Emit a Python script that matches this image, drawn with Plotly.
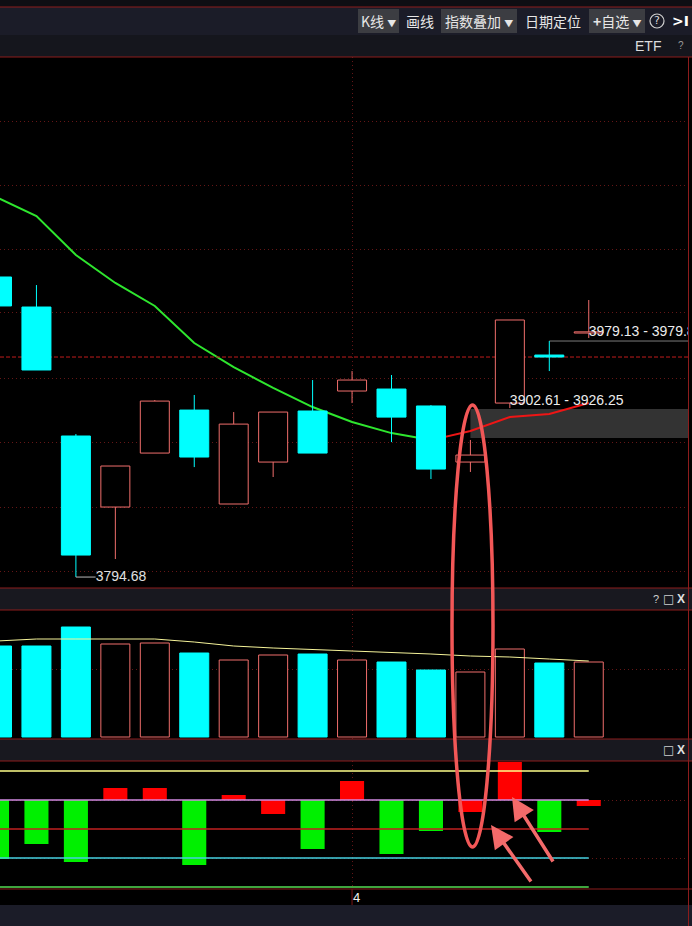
import plotly.graph_objects as go

W, H = 692, 926
def px(x): return x / W
def py(y): return 1 - y / H

# ---------------- data ----------------
idx = list(range(16))
opens  = [4021.5, 3998.8, 3901.3, 3847.6, 3888.4, 3920.9, 3849.9, 3881.6, 3920.2, 3935.3, 3936.8, 3924.0, 3881.6, 3926.2, 3962.5, 3979.13]
closes = [3999.6, 3951.2, 3811.3, 3878.6, 3927.7, 3885.4, 3910.3, 3919.4, 3888.4, 3943.6, 3915.6, 3876.3, 3886.9, 3989.0, 3961.0, 3979.85]
highs  = [4021.5, 4015.4, 3902.8, 3878.6, 3928.5, 3932.3, 3919.4, 3919.4, 3943.6, 3950.4, 3947.4, 3924.7, 3898.3, 3989.0, 3973.1, 4004.1]
lows   = [3999.6, 3951.2, 3794.68, 3808.3, 3888.4, 3877.8, 3849.9, 3870.3, 3888.4, 3926.2, 3896.7, 3868.8, 3874.1, 3922.4, 3950.4, 3975.4]
ma     = [4081.6, 4067.6, 4038.1, 4017.0, 3999.6, 3971.6, 3953.4, 3937.6, 3923.2, 3911.9, 3903.5, 3898.2, 3905.1, 3915.6, 3917.9, 3926.25]
ma_turn = 11                      # MA turns from falling (green) to rising (red)
prev_close = 3961.0
band = [3899.8, 3921.7]           # grey zone
band_start = 12
price_grid = [3798.5, 3847.6, 3896.7, 3945.1, 3994.3, 4042.6, 4091.0, 4139.4]

volume = [455, 455, 550, 465, 470, 420, 385, 410, 415, 385, 375, 335, 325, 440, 370, 375]
vol_ma = [480, 490, 490, 490, 490, 475, 455, 445, 438, 430, 425, 415, 405, 400, 390, 380]
vol_grid = [340]

macd = [-5.9, -4.4, -6.2, 1.2, 1.2, -6.5, 0.5, -1.4, -4.9, 1.9, -5.4, -3.1, -1.2, 3.8, -3.2, -0.6]
macd_levels = [2.9, 0.0, -2.9, -5.8, -8.7]
macd_level_colors = ["#ffff8a", "#d08ae0", "#c02020", "#44d0e0", "#55dd55"]
macd_grid = [0.0, -5.8]

x_tick_pos = [9]
x_tick_text = ["4"]

low_label = (2, "3794.68")
range_labels = [(13, 3927.7, "3902.61 - 3926.25"), (15, 3979.9, "3979.13 - 3979.85")]

# ---------------- styles ----------------
UP = "#f06e6c"
DN = "#00ffff"
GRID = "rgba(125,28,28,0.8)"
GRID_DASH = "1px,3px"
BORDER = "#8c1c1c"
X0, DX = -3.0, 39.45
xr = [(0 - X0) / DX, (688 - X0) / DX]
yr_main = [3786.4, 4187.8]

up = [c >= o for o, c in zip(opens, closes)]

fig = go.Figure()

# --- main subplot (below): MA line, reference lines
fig.add_trace(go.Scatter(x=idx[:ma_turn + 1], y=ma[:ma_turn + 1], mode="lines",
                         line=dict(color="#2ee62e", width=2), xaxis="x", yaxis="y"))
fig.add_trace(go.Scatter(x=idx[ma_turn:], y=ma[ma_turn:], mode="lines",
                         line=dict(color="#ee1515", width=2), xaxis="x", yaxis="y"))
fig.add_trace(go.Scatter(x=xr, y=[prev_close, prev_close], mode="lines",
                         line=dict(color="#c01c1c", width=1, dash="4px,2px"), xaxis="x", yaxis="y"))
fig.add_trace(go.Scatter(x=[14, xr[1]], y=[highs[14], highs[14]], mode="lines",
                         line=dict(color="#7a7a7a", width=1), xaxis="x", yaxis="y"))

# --- candles on an overlaying axis so they sit above the MA line
base = [min(o, c) for o, c in zip(opens, closes)]
top = [max(o, c) for o, c in zip(opens, closes)]
hgt = [max(abs(c - o), 0.9) for o, c in zip(opens, closes)]
fig.add_trace(go.Bar(x=idx, y=hgt, base=base, width=0.735,
                     marker=dict(color=["#000000" if u else DN for u in up],
                                 line=dict(color=[UP if u else DN for u in up], width=1)),
                     xaxis="x", yaxis="y4"))
for flag, col in [(True, UP), (False, DN)]:
    wx, wy = [], []
    for i in idx:
        if up[i] == flag:
            wx += [i, i, None, i, i, None]
            wy += [lows[i], base[i], None, top[i], highs[i], None]
    fig.add_trace(go.Scatter(x=wx, y=wy, mode="lines", line=dict(color=col, width=1),
                             xaxis="x", yaxis="y4"))

# low label with leader
li, ltxt = low_label
fig.add_trace(go.Scatter(x=[li, li + 0.5], y=[lows[li], lows[li]], mode="lines",
                         line=dict(color="#b8b8b8", width=1), xaxis="x", yaxis="y4"))
fig.add_trace(go.Scatter(x=[li + 0.5], y=[lows[li]], mode="text", text=[ltxt],
                         textposition="middle right", cliponaxis=True,
                         textfont=dict(family="Liberation Sans", size=14, color="#e0e0e0"),
                         xaxis="x", yaxis="y4"))
fig.add_trace(go.Scatter(x=[r[0] for r in range_labels], y=[r[1] for r in range_labels],
                         mode="text", text=[r[2] for r in range_labels],
                         textposition="middle right", cliponaxis=True,
                         textfont=dict(family="Liberation Sans", size=14, color="#ececec"),
                         xaxis="x", yaxis="y4"))

# --- volume
fig.add_trace(go.Bar(x=idx, y=volume, width=0.735,
                     marker=dict(color=["#000000" if u else DN for u in up],
                                 line=dict(color=[UP if u else DN for u in up], width=1)),
                     xaxis="x2", yaxis="y2"))
fig.add_trace(go.Scatter(x=idx, y=vol_ma, mode="lines", line=dict(color="#f6f49a", width=1),
                         xaxis="x2", yaxis="y2"))

# --- macd-like panel
for lv, col in zip(macd_levels, macd_level_colors):
    fig.add_trace(go.Scatter(x=[idx[0], idx[-1]], y=[lv, lv], mode="lines",
                             line=dict(color=col, width=1.3), xaxis="x3", yaxis="y3"))
fig.add_trace(go.Bar(x=idx, y=macd, width=0.61,
                     marker=dict(color=["#ff0000" if u else "#00f000" for u in up], line=dict(width=0)),
                     xaxis="x3", yaxis="y3"))

# ---------------- layout ----------------
xdom = [0, 688 / W]
axx = dict(range=xr, domain=xdom, showticklabels=False, zeroline=False, showline=False,
           tickvals=x_tick_pos, showgrid=True, gridcolor=GRID, griddash=GRID_DASH, gridwidth=1,
           fixedrange=True)
axy = dict(showticklabels=False, zeroline=False, showline=False, showgrid=True,
           gridcolor=GRID, griddash=GRID_DASH, gridwidth=1, fixedrange=True)

fig.update_layout(
    width=W, height=H, margin=dict(l=0, r=0, t=0, b=0),
    paper_bgcolor="#000000", plot_bgcolor="#000000",
    showlegend=False, hovermode=False, barmode="overlay",
    xaxis=dict(axx, anchor="y"),
    xaxis2=dict(axx, anchor="y2"),
    xaxis3=dict(axx, anchor="y3"),
    yaxis=dict(axy, domain=[py(588), py(57)], range=yr_main, tickvals=price_grid, anchor="x"),
    yaxis4=dict(range=yr_main, overlaying="y", anchor="x", showgrid=False, showticklabels=False,
                zeroline=False, showline=False, fixedrange=True),
    yaxis2=dict(axy, domain=[py(739), py(610)], range=[-10, 635], tickvals=vol_grid, anchor="x2"),
    yaxis3=dict(axy, domain=[py(889), py(761)], range=[-8.9, 3.9], tickvals=macd_grid, anchor="x3"),
)

shapes = []
def rect(x0, y0, x1, y1, color, layer="below"):
    shapes.append(dict(type="rect", xref="paper", yref="paper", x0=px(x0), x1=px(x1),
                       y0=py(y1), y1=py(y0), fillcolor=color, line=dict(width=0), layer=layer))
def hline(y, x0=0, x1=W, color=BORDER, w=1):
    shapes.append(dict(type="line", xref="paper", yref="paper", x0=px(x0), x1=px(x1),
                       y0=py(y), y1=py(y), line=dict(color=color, width=w)))

# backgrounds
rect(0, 0, W, 7, "#0e0e13")
rect(0, 7, W, 35, "#1b1c28")
rect(0, 35, W, 57, "#15161d")
rect(0, 588, W, 610, "#18181f")
rect(0, 739, W, 761, "#18181f")
rect(0, 905, W, H, "#1b1c28")
for x0, x1 in [(358, 399), (441, 517), (589, 645)]:
    rect(x0, 9, x1, 33, "#3c3d42")
# grey zone in main chart
shapes.append(dict(type="rect", xref="x", yref="y", x0=band_start, x1=xr[1], y0=band[0], y1=band[1],
                   fillcolor="#333333", line=dict(width=0), layer="below"))
# borders
for y in [7, 57, 588, 610, 739, 761, 889]:
    hline(y)
shapes.append(dict(type="line", xref="paper", yref="paper", x0=px(688.5), x1=px(688.5),
                   y0=py(H), y1=py(57), line=dict(color=BORDER, width=1)))
shapes.append(dict(type="line", xref="x3", yref="paper", x0=x_tick_pos[0], x1=x_tick_pos[0],
                   y0=py(905), y1=py(889), line=dict(color="#7a1515", width=1)))
shapes.append(dict(type="circle", xref="paper", yref="paper", x0=px(650), x1=px(664),
                   y0=py(28), y1=py(14), line=dict(color="#cfcfcf", width=1.2)))
# red ellipse annotation
shapes.append(dict(type="circle", xref="paper", yref="paper", x0=px(452), x1=px(493),
                   y0=py(847), y1=py(405), line=dict(color="#f25757", width=3.5), layer="above"))
fig.update_layout(shapes=shapes)

ann = []
def txt(x, y, s, size=14, color="#e6e6e6", family="Noto Sans CJK SC", weight="normal", xanchor="center"):
    ann.append(dict(x=px(x), y=py(y), xref="paper", yref="paper", text=s, showarrow=False,
                    xanchor=xanchor, yanchor="middle",
                    font=dict(size=size, color=color, family=family, weight=weight)))

txt(378, 21, "K线 <span style='font-size:9px'>▼</span>")
txt(420, 21, "画线")
txt(479, 21, "指数叠加 <span style='font-size:9px'>▼</span>")
txt(553, 21, "日期定位")
txt(617, 21, "<b>+</b>自选 <span style='font-size:9px'>▼</span>")
txt(657, 21, "?", size=11, color="#d8d8d8", family="DejaVu Sans")
txt(680, 21, ">I", size=14, color="#ffffff", family="DejaVu Sans", weight="bold")
txt(648, 46, "ETF", size=14, color="#dddddd", family="Liberation Sans")
txt(681, 46, "?", size=10, color="#9a9a9a", family="Liberation Sans")
txt(656, 599, "?", size=11, color="#cfcfcf", family="Liberation Sans")
txt(668, 599, "□", size=12, color="#cfcfcf", family="DejaVu Sans")
txt(681, 599, "X", size=12, color="#e0e0e0", family="Liberation Sans", weight="bold")
txt(668, 750, "□", size=12, color="#cfcfcf", family="DejaVu Sans")
txt(681, 750, "X", size=12, color="#e0e0e0", family="Liberation Sans", weight="bold")

ann.append(dict(x=x_tick_pos[0], y=py(897), xref="x3", yref="paper", text=x_tick_text[0],
                showarrow=False, xanchor="left", yanchor="middle", xshift=-1,
                font=dict(size=13, color="#f0f0f0", family="Liberation Sans")))

for hx, hy, tx, ty in [(491, 825, 532, 883), (512, 797, 554, 863)]:
    ann.append(dict(x=px(hx), y=py(hy), xref="paper", yref="paper", text="", showarrow=True,
                    ax=tx - hx, ay=ty - hy, arrowhead=2, arrowsize=1.3, arrowwidth=3.5,
                    arrowcolor="#f36a6a"))
fig.update_layout(annotations=ann)

fig.write_html("out.html", config={"displayModeBar": False},
               post_script="document.body.style.margin='0';document.body.style.overflow='hidden';")
